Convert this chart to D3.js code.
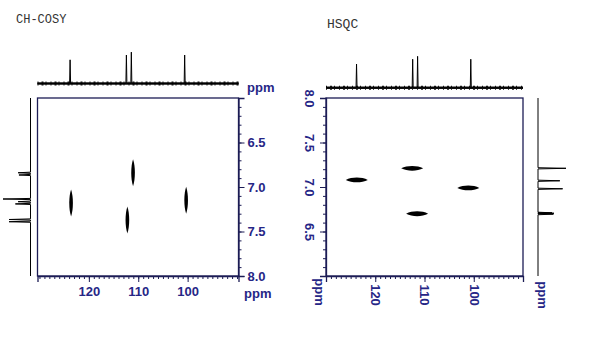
<!DOCTYPE html>
<html>
<head>
<meta charset="utf-8">
<script src="https://cdnjs.cloudflare.com/ajax/libs/d3/7.8.5/d3.min.js"></script>
<style>
    body { margin: 0; background: #fff; }
    svg { display: block; }
    .title { font-family: "Liberation Mono", "Courier New", monospace; fill: #333; }
    .axis text, .unit { font-family: "Liberation Sans", Arial, sans-serif; font-weight: bold; font-size: 13px; fill: #262686; }
    .axis path, .axis line, .frame { stroke: #1c1c55; }
</style>
</head>
<body>
<script>
// 13C lines shared by both top projections (ppm, relative intensity)
var carbonShifts = [123.8, 112.4, 111.4, 100.6];
var carbonHeights = [0.74, 0.89, 0.98, 0.89];

// CH-COSY cross peaks
var cosyC = [123.6, 111.05, 112.2, 100.3];
var cosyH = [7.18, 6.84, 7.37, 7.15];

// 1H projection beside CH-COSY
var cosyProtonShifts = [6.84, 6.865, 7.135, 7.165, 7.19, 7.365, 7.39];
var cosyProtonHeights = [0.45, 0.42, 1.0, 0.45, 0.55, 0.78, 0.78];

// HSQC cross peaks
var hsqcC = [123.75, 112.5, 111.5, 101.1];
var hsqcH = [7.08, 7.21, 6.70, 6.99];

// 1H projection beside HSQC
var hsqcProtonShifts = [7.21, 7.07, 6.98, 6.705, 6.695, 6.71];
var hsqcProtonHeights = [1.0, 0.78, 0.88, 0.57, 0.55, 0.5];

var majorC = [120, 110, 100];
var majorHLeft = [6.5, 7.0, 7.5, 8.0];
var majorHRight = [8.0, 7.5, 7.0, 6.5];

var svg = d3.select("body").append("svg")
            .attr("width", 600)
            .attr("height", 350);

var minorC = d3.range(90, 131, 1),
    minorH = d3.range(60, 81, 1).map(function(v) {return v / 10; });

// spike path along the carbon axis (horizontal baseline, peaks up)
function carbonPath(x, base, hScale) {
    var pts = [[x.range()[0], base]];
    carbonShifts.map(function(s, i) {return [s, carbonHeights[i]]; })
                .sort(function(a, b) {return x(a[0]) - x(b[0]); })
                .forEach(function(p) {
                    var px = x(p[0]);
                    pts.push([px - 0.5, base], [px, hScale(p[1])], [px + 0.5, base]);
                });
    pts.push([x.range()[1], base]);
    return d3.line()(pts);
}

// spike path along a proton axis (vertical baseline, peaks sideways)
function protonPath(y, shifts, heights, hScale) {
    var base = hScale(0),
        ys = y.range(),
        pts = [[base, d3.min(ys)]];
    shifts.map(function(s, i) {return [s, heights[i]]; })
          .sort(function(a, b) {return y(a[0]) - y(b[0]); })
          .forEach(function(p) {
              var py = y(p[0]);
              pts.push([base, py - 0.6], [hScale(p[1]), py], [base, py + 0.6]);
          });
    pts.push([base, d3.max(ys)]);
    return d3.line()(pts);
}

// pointed contour blob, rx/ry are half sizes in px
function lens(cx, cy, rx, ry) {
    var p = d3.path();
    if (ry > rx) {
        p.moveTo(cx, cy - ry);
        p.bezierCurveTo(cx + rx * 1.35, cy - ry * 0.45, cx + rx * 1.35, cy + ry * 0.45, cx, cy + ry);
        p.bezierCurveTo(cx - rx * 1.35, cy + ry * 0.45, cx - rx * 1.35, cy - ry * 0.45, cx, cy - ry);
    } else {
        p.moveTo(cx - rx, cy);
        p.bezierCurveTo(cx - rx * 0.45, cy - ry * 1.35, cx + rx * 0.45, cy - ry * 1.35, cx + rx, cy);
        p.bezierCurveTo(cx + rx * 0.45, cy + ry * 1.35, cx - rx * 0.45, cy + ry * 1.35, cx - rx, cy);
    }
    p.closePath();
    return p.toString();
}

function carbonProjection(g, x, base) {
    var hScale = d3.scaleLinear().domain([0, 1]).range([base, base - 32]);
    g.append("line")
     .attr("x1", x.range()[0]).attr("x2", x.range()[1])
     .attr("y1", base).attr("y2", base)
     .attr("stroke", "#111")
     .attr("stroke-width", 2.4);
    g.append("line")
     .attr("x1", x.range()[0]).attr("x2", x.range()[1])
     .attr("y1", base).attr("y2", base)
     .attr("stroke", "#111")
     .attr("stroke-width", 4)
     .attr("stroke-dasharray", "1 3 2 2 1 4");
    g.append("path")
     .attr("d", carbonPath(x, base, hScale))
     .attr("fill", "none")
     .attr("stroke", "#000")
     .attr("stroke-width", 1);
}

/* ---------- CH-COSY (left) ---------- */
var left = svg.append("g");

var xL = d3.scaleLinear().domain([130.4, 89.7]).range([37.5, 238.5]),
    yL = d3.scaleLinear().domain([6, 8]).range([98, 276]);

left.append("text")
    .attr("class", "title")
    .attr("x", 16)
    .attr("y", 23)
    .style("font-size", "12px")
    .text("CH-COSY");

left.append("rect")
    .attr("class", "frame")
    .attr("x", xL.range()[0]).attr("y", yL.range()[0])
    .attr("width", xL.range()[1] - xL.range()[0])
    .attr("height", yL.range()[1] - yL.range()[0])
    .attr("fill", "none")
    .attr("stroke-width", 1.3);

left.append("g")
    .attr("class", "axis")
    .attr("transform", "translate(" + xL.range()[1] + ",0)")
    .call(d3.axisRight(yL).tickValues(minorH).tickSize(3).tickFormat(""))
    .call(function(g) {g.select(".domain").remove(); });

left.append("g")
    .attr("class", "axis")
    .attr("transform", "translate(" + xL.range()[1] + ",0)")
    .call(d3.axisRight(yL).tickValues(majorHLeft).tickSize(6).tickPadding(3).tickFormat(d3.format(".1f")))
    .call(function(g) {g.select(".domain").attr("stroke-width", 1.3); });

left.append("g")
    .attr("class", "axis")
    .attr("transform", "translate(0," + yL.range()[1] + ")")
    .call(d3.axisBottom(xL).tickValues(minorC).tickSize(3).tickFormat(""))
    .call(function(g) {g.select(".domain").remove(); });

left.append("g")
    .attr("class", "axis")
    .attr("transform", "translate(0," + yL.range()[1] + ")")
    .call(d3.axisBottom(xL).tickValues(majorC).tickSize(6).tickPadding(5))
    .call(function(g) {g.select(".domain").attr("stroke-width", 1.3); });

left.append("text").attr("class", "unit").attr("x", 247).attr("y", 92).text("ppm");
left.append("text").attr("class", "unit").attr("x", 244).attr("y", 298).text("ppm");

left.selectAll(".xpeak")
    .data(cosyC)
    .enter()
    .append("path")
    .attr("class", "xpeak")
    .attr("d", function(d, i) {return lens(xL(d), yL(cosyH[i]), 1.8, 13.5); })
    .attr("fill", "#000");

carbonProjection(left.append("g"), xL, 83.5);

left.append("path")
    .attr("d", protonPath(yL, cosyProtonShifts, cosyProtonHeights,
                          d3.scaleLinear().domain([0, 1]).range([30.5, 3])))
    .attr("fill", "none")
    .attr("stroke", "#000")
    .attr("stroke-width", 1);

/* ---------- HSQC (right) ---------- */
var right = svg.append("g");

var xR = d3.scaleLinear().domain([130, 90]).range([326, 523]),
    yR = d3.scaleLinear().domain([8, 6]).range([98, 276]);

right.append("text")
     .attr("class", "title")
     .attr("x", 327)
     .attr("y", 28)
     .style("font-size", "13px")
     .text("HSQC");

right.append("rect")
     .attr("class", "frame")
     .attr("x", xR.range()[0]).attr("y", yR.range()[0])
     .attr("width", xR.range()[1] - xR.range()[0])
     .attr("height", yR.range()[1] - yR.range()[0])
     .attr("fill", "none")
     .attr("stroke-width", 1.3);

right.append("g")
     .attr("class", "axis")
     .attr("transform", "translate(" + xR.range()[0] + ",0)")
     .call(d3.axisLeft(yR).tickValues(minorH).tickSize(3).tickFormat(""))
     .call(function(g) {g.select(".domain").remove(); });

right.append("g")
     .attr("class", "axis")
     .attr("transform", "translate(" + xR.range()[0] + ",0)")
     .call(d3.axisLeft(yR).tickValues(majorHRight).tickSize(6).tickFormat(d3.format(".1f")))
     .call(function(g) {
         g.select(".domain").attr("stroke-width", 1.3);
         g.selectAll("text")
          .attr("x", 0).attr("dy", "0.35em")
          .attr("text-anchor", "middle")
          .attr("transform", "translate(-16,0) rotate(90)");
     });

right.append("g")
     .attr("class", "axis")
     .attr("transform", "translate(0," + yR.range()[1] + ")")
     .call(d3.axisBottom(xR).tickValues(minorC).tickSize(3).tickFormat(""))
     .call(function(g) {g.select(".domain").remove(); });

right.append("g")
     .attr("class", "axis")
     .attr("transform", "translate(0," + yR.range()[1] + ")")
     .call(d3.axisBottom(xR).tickValues(majorC).tickSize(6))
     .call(function(g) {
         g.select(".domain").attr("stroke-width", 1.3);
         g.selectAll("text")
          .attr("y", 0).attr("dy", "0.35em")
          .attr("text-anchor", "middle")
          .attr("transform", "translate(0,19) rotate(90)");
     });

right.append("text").attr("class", "unit")
     .attr("text-anchor", "middle").attr("dy", "0.35em")
     .attr("transform", "translate(320,292) rotate(90)")
     .text("ppm");
right.append("text").attr("class", "unit")
     .attr("text-anchor", "middle").attr("dy", "0.35em")
     .attr("transform", "translate(543,295) rotate(90)")
     .text("ppm");

right.selectAll(".xpeak")
     .data(hsqcC)
     .enter()
     .append("path")
     .attr("class", "xpeak")
     .attr("d", function(d, i) {return lens(xR(d), yR(hsqcH[i]), 11, 2.4); })
     .attr("fill", "#000");

carbonProjection(right.append("g"), xR, 87.7);

right.append("path")
     .attr("d", protonPath(yR, hsqcProtonShifts, hsqcProtonHeights,
                           d3.scaleLinear().domain([0, 1]).range([538, 566])))
     .attr("fill", "none")
     .attr("stroke", "#000")
     .attr("stroke-width", 1);
</script>
</body>
</html>
